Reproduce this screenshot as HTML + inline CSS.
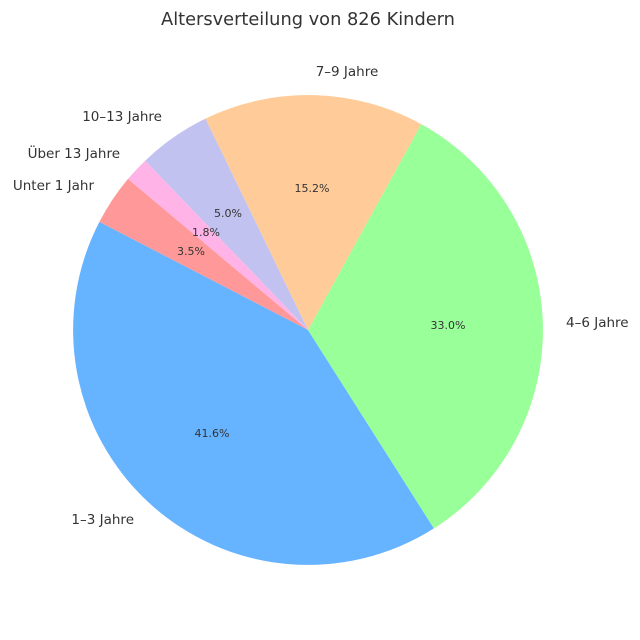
<!DOCTYPE html>
<html><head><meta charset="utf-8"><style>
body{margin:0;background:#fff}
svg{display:block;font-family:"DejaVu Sans","Liberation Sans",sans-serif}
</style></head><body>
<svg width="640" height="640" viewBox="0 0 640 640">
<rect width="640" height="640" fill="#fff"/>
<text x="308" y="25" text-anchor="middle" font-size="17.8" fill="#333">Altersverteilung von 826 Kindern</text>
<g>
<path d="M308,330 L128.0,178.9 A235,235 0 0 0 99.4,221.9 Z" fill="#ff9999"/>
<path d="M308,330 L99.4,221.9 A235,235 0 0 0 433.9,528.4 Z" fill="#66b3ff"/>
<path d="M308,330 L433.9,528.4 A235,235 0 0 0 421.2,124.1 Z" fill="#99ff99"/>
<path d="M308,330 L421.2,124.1 A235,235 0 0 0 205.4,118.6 Z" fill="#ffcc99"/>
<path d="M308,330 L205.4,118.6 A235,235 0 0 0 145.1,160.7 Z" fill="#c2c2f0"/>
<path d="M308,330 L145.1,160.7 A235,235 0 0 0 128.0,178.9 Z" fill="#ffb3e6"/>
</g>
<g font-size="13.5" fill="#333">
<text x="94" y="190" text-anchor="end">Unter 1 Jahr</text>
<text x="120" y="158" text-anchor="end">Über 13 Jahre</text>
<text x="162" y="121" text-anchor="end">10–13 Jahre</text>
<text x="347" y="76" text-anchor="middle">7–9 Jahre</text>
<text x="566" y="327" text-anchor="start">4–6 Jahre</text>
<text x="134" y="524" text-anchor="end">1–3 Jahre</text>
</g>
<g font-size="11" fill="#333" text-anchor="middle">
<text x="212" y="437">41.6%</text>
<text x="448" y="329">33.0%</text>
<text x="312" y="192">15.2%</text>
<text x="228" y="217">5.0%</text>
<text x="206" y="236">1.8%</text>
<text x="191" y="255">3.5%</text>
</g>
</svg>
</body></html>
